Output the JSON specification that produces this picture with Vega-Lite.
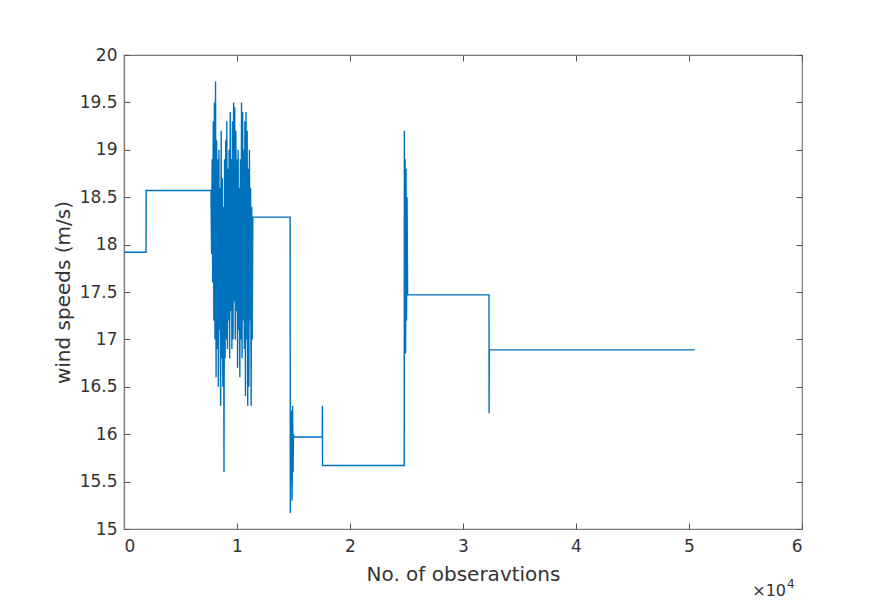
{
  "$schema": "https://vega.github.io/schema/vega-lite/v6.json",
  "width": 678,
  "height": 474,
  "autosize": {"type": "none"},
  "padding": {"left": 124, "top": 55, "right": 72, "bottom": 85},
  "background": "white",
  "config": {
    "view": {"stroke": "#7a7a7a", "strokeWidth": 1.2},
    "font": "DejaVu Sans",
    "axis": {
      "domainColor": "#7a7a7a",
      "domainWidth": 1.2,
      "tickColor": "#555555",
      "tickSize": 6,
      "grid": false,
      "labelFont": "DejaVu Sans",
      "labelFontSize": 17,
      "labelColor": "#333333",
      "titleFont": "DejaVu Sans",
      "titleFontSize": 20,
      "titleFontWeight": "normal",
      "titleColor": "#333333"
    }
  },
  "datasets": {
    "wind": [
      {"x": 0, "y": 17.92}, {"x": 1950, "y": 17.92}, {"x": 1960, "y": 18.57}, {"x": 7700, "y": 18.57},
      {"x": 7750, "y": 17.9}, {"x": 7800, "y": 18.9}, {"x": 7850, "y": 17.6}, {"x": 7900, "y": 19.3},
      {"x": 7950, "y": 17.2}, {"x": 8000, "y": 19.5}, {"x": 8050, "y": 17.0}, {"x": 8100, "y": 19.72},
      {"x": 8150, "y": 16.6}, {"x": 8200, "y": 19.1}, {"x": 8250, "y": 16.9}, {"x": 8300, "y": 18.9},
      {"x": 8350, "y": 16.5}, {"x": 8400, "y": 19.0}, {"x": 8450, "y": 17.1}, {"x": 8500, "y": 18.6},
      {"x": 8550, "y": 16.3}, {"x": 8600, "y": 19.2}, {"x": 8650, "y": 16.8}, {"x": 8700, "y": 18.7},
      {"x": 8750, "y": 16.5}, {"x": 8800, "y": 18.4}, {"x": 8850, "y": 15.6}, {"x": 8900, "y": 18.9},
      {"x": 8950, "y": 16.8}, {"x": 9000, "y": 19.1}, {"x": 9050, "y": 17.0}, {"x": 9100, "y": 19.3},
      {"x": 9150, "y": 16.9}, {"x": 9200, "y": 18.8}, {"x": 9250, "y": 17.2}, {"x": 9300, "y": 19.0},
      {"x": 9350, "y": 16.8}, {"x": 9400, "y": 19.4}, {"x": 9450, "y": 17.3}, {"x": 9500, "y": 18.9},
      {"x": 9550, "y": 16.9}, {"x": 9600, "y": 19.3}, {"x": 9650, "y": 17.0}, {"x": 9700, "y": 19.5},
      {"x": 9750, "y": 17.4}, {"x": 9800, "y": 19.45}, {"x": 9850, "y": 17.0}, {"x": 9900, "y": 19.2},
      {"x": 9950, "y": 17.3}, {"x": 10000, "y": 18.9}, {"x": 10050, "y": 16.7}, {"x": 10100, "y": 19.0},
      {"x": 10150, "y": 17.1}, {"x": 10200, "y": 18.6}, {"x": 10250, "y": 16.6}, {"x": 10300, "y": 18.9},
      {"x": 10350, "y": 17.0}, {"x": 10400, "y": 19.5}, {"x": 10450, "y": 16.8}, {"x": 10500, "y": 19.4},
      {"x": 10550, "y": 17.2}, {"x": 10600, "y": 19.0}, {"x": 10650, "y": 16.9}, {"x": 10700, "y": 19.3},
      {"x": 10750, "y": 16.4}, {"x": 10800, "y": 19.4}, {"x": 10850, "y": 17.0}, {"x": 10900, "y": 19.2},
      {"x": 10950, "y": 16.3}, {"x": 11000, "y": 18.8}, {"x": 11050, "y": 16.5}, {"x": 11100, "y": 19.0},
      {"x": 11150, "y": 17.2}, {"x": 11200, "y": 18.6}, {"x": 11250, "y": 16.3}, {"x": 11300, "y": 18.4},
      {"x": 11350, "y": 17.0}, {"x": 11400, "y": 18.29}, {"x": 14700, "y": 18.29}, {"x": 14720, "y": 15.17},
      {"x": 14760, "y": 16.2}, {"x": 14800, "y": 15.5}, {"x": 14840, "y": 16.25}, {"x": 14880, "y": 15.3},
      {"x": 14920, "y": 16.3}, {"x": 14960, "y": 15.6}, {"x": 15000, "y": 16.0}, {"x": 15050, "y": 15.97},
      {"x": 17550, "y": 15.97}, {"x": 17560, "y": 16.3}, {"x": 17570, "y": 15.67}, {"x": 24800, "y": 15.67},
      {"x": 24810, "y": 19.2}, {"x": 24850, "y": 17.0}, {"x": 24880, "y": 18.9}, {"x": 24920, "y": 16.85},
      {"x": 24960, "y": 18.8}, {"x": 25000, "y": 17.2}, {"x": 25050, "y": 18.5}, {"x": 25100, "y": 17.47},
      {"x": 32300, "y": 17.47}, {"x": 32310, "y": 16.22}, {"x": 32330, "y": 16.89}, {"x": 50500, "y": 16.89}
    ],
    "note": [{"x": 60000, "y": 15, "base": "×10", "exp": "4"}]
  },
  "resolve": {"axis": {"x": "independent", "y": "independent"}},
  "layer": [
    {
      "data": {"name": "wind"},
      "mark": {"type": "line", "color": "#0072BD", "strokeWidth": 1.4, "interpolate": "linear"},
      "encoding": {
        "x": {
          "field": "x", "type": "quantitative",
          "scale": {"domain": [0, 60000], "nice": false},
          "axis": {"orient": "bottom", "title": "No. of obseravtions", "values": [0, 10000, 20000, 30000, 40000, 50000, 60000], "labelExpr": "datum.value / 10000", "ticks": false, "labelPadding": 9, "titlePadding": 10}
        },
        "y": {
          "field": "y", "type": "quantitative",
          "scale": {"domain": [15, 20], "nice": false, "zero": false},
          "axis": {"orient": "left", "title": "wind speeds (m/s)", "values": [15, 15.5, 16, 16.5, 17, 17.5, 18, 18.5, 19, 19.5, 20], "format": "~g", "ticks": false, "labelPadding": 7, "titlePadding": 6}
        }
      }
    },
    {
      "data": {"name": "wind"},
      "mark": {"type": "line", "opacity": 0},
      "encoding": {
        "x": {
          "field": "x", "type": "quantitative",
          "axis": {"orient": "top", "offset": -474, "title": null, "labels": false, "domain": false, "values": [0, 10000, 20000, 30000, 40000, 50000, 60000]}
        },
        "y": {
          "field": "y", "type": "quantitative",
          "axis": {"orient": "right", "offset": -678, "title": null, "labels": false, "domain": false, "values": [15, 15.5, 16, 16.5, 17, 17.5, 18, 18.5, 19, 19.5, 20]}
        }
      }
    },
    {
      "data": {"name": "wind"},
      "mark": {"type": "line", "opacity": 0},
      "encoding": {
        "x": {
          "field": "x", "type": "quantitative",
          "axis": {"orient": "bottom", "offset": -474, "title": null, "labels": false, "domain": false, "values": [0, 10000, 20000, 30000, 40000, 50000, 60000]}
        },
        "y": {
          "field": "y", "type": "quantitative",
          "axis": {"orient": "left", "offset": -678, "title": null, "labels": false, "domain": false, "values": [15, 15.5, 16, 16.5, 17, 17.5, 18, 18.5, 19, 19.5, 20]}
        }
      }
    },
    {
      "data": {"name": "note"},
      "mark": {"type": "text", "align": "right", "baseline": "middle", "dx": -16, "dy": 62, "fontSize": 16, "color": "#333333", "font": "DejaVu Sans"},
      "encoding": {
        "x": {"field": "x", "type": "quantitative", "axis": null},
        "y": {"field": "y", "type": "quantitative", "axis": null},
        "text": {"field": "base"}
      }
    },
    {
      "data": {"name": "note"},
      "mark": {"type": "text", "align": "left", "baseline": "middle", "dx": -15, "dy": 55, "fontSize": 12, "color": "#333333", "font": "DejaVu Sans"},
      "encoding": {
        "x": {"field": "x", "type": "quantitative", "axis": null},
        "y": {"field": "y", "type": "quantitative", "axis": null},
        "text": {"field": "exp"}
      }
    }
  ]
}
